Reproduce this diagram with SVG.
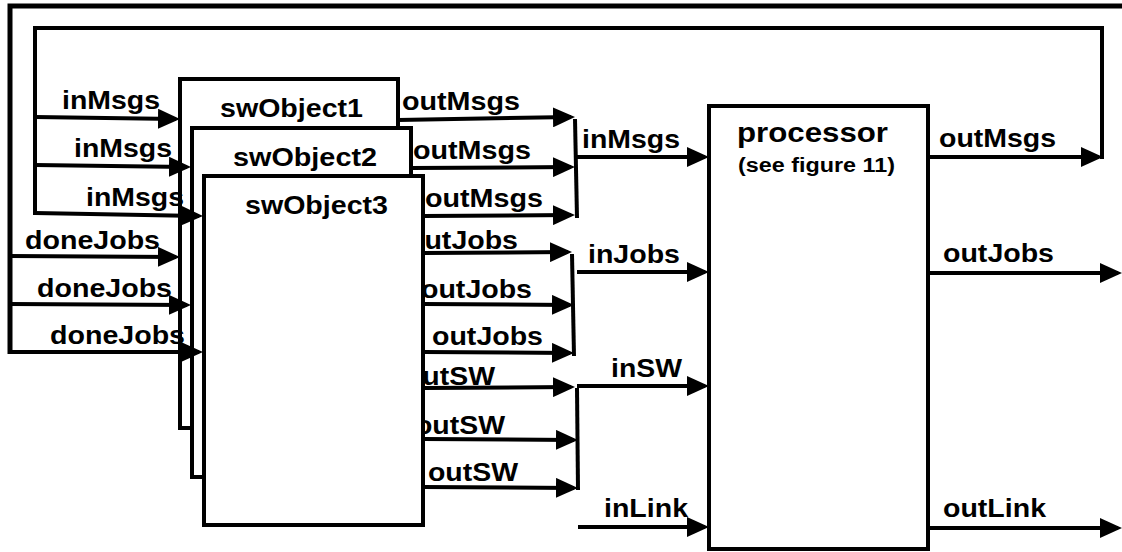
<svg xmlns="http://www.w3.org/2000/svg" width="1122" height="552" viewBox="0 0 1122 552">
<defs>
<marker id="ah" viewBox="0 0 22 20" refX="18" refY="10" markerWidth="22" markerHeight="20" markerUnits="userSpaceOnUse" orient="auto"><path d="M0,0 L22,10 L0,20 z" fill="#000"/></marker>
<clipPath id="clipR"><rect x="425" y="0" width="697" height="552"/></clipPath>
</defs>
<style>
.box{fill:#fff;stroke:#000;stroke-width:4}
.ln{fill:none;stroke:#000;stroke-width:4;stroke-linejoin:miter}
.lp{fill:none;stroke:#000;stroke-width:5;stroke-linejoin:miter}
.ar{fill:none;stroke:#000;stroke-width:4;marker-end:url(#ah)}
text{font-family:"Liberation Sans",Arial,sans-serif;font-weight:bold;fill:#000}
.lb{font-size:25px}
.nm{font-size:26px}
</style>
<rect width="1122" height="552" fill="#fff"/>
<g id="swObject1"><rect class="box" x="180" y="79" width="218" height="349"/><text class="nm" x="220" y="117" textLength="143" lengthAdjust="spacingAndGlyphs">swObject1</text></g>
<g id="swObject2"><rect class="box" x="192" y="128" width="219" height="349"/><text class="nm" x="233" y="166" textLength="144" lengthAdjust="spacingAndGlyphs">swObject2</text></g>
<g id="swObject3"><rect class="box" x="204" y="176" width="219" height="349"/><text class="nm" x="245" y="214" textLength="143" lengthAdjust="spacingAndGlyphs">swObject3</text></g>
<g id="processor"><rect class="box" x="709" y="106" width="219" height="443"/><text x="737" y="142" font-size="28" textLength="151" lengthAdjust="spacingAndGlyphs">processor</text><text x="738" y="172" font-size="20" textLength="157" lengthAdjust="spacingAndGlyphs">(see figure 11)</text></g>
<g id="connectors">
<path class="lp" d="M1122,6 H10 V354"/>
<path class="ln" d="M1102,159 V28 H35 V215"/>
<path class="ar" d="M35,117 L176,119"/>
<path class="ar" d="M35,165 L187,167"/>
<path class="ar" d="M35,213 L199,216"/>
<path class="ar" d="M10,256 L176,257"/>
<path class="ar" d="M10,304 L187,305"/>
<path class="ar" d="M10,352 L199,352"/>
<path class="ar" d="M398,120 L571,117"/>
<path class="ar" d="M411,168 L571,167"/>
<path class="ar" d="M423,216 L571,215"/>
<path class="ar" d="M423,253 L568,252"/>
<path class="ar" d="M423,304 L570,305"/>
<path class="ar" d="M423,352 L570,353"/>
<path class="ar" d="M423,388 L571,387"/>
<path class="ar" d="M423,439 L574,440"/>
<path class="ar" d="M423,487 L574,488"/>
<path class="ln" d="M575,119 L577,218"/>
<path class="ln" d="M572,254 L574,356"/>
<path class="ln" d="M577,388 L578,490"/>
<path class="ar" d="M577,157 L705,157"/>
<path class="ar" d="M577,272 L705,272"/>
<path class="ar" d="M577,386 L705,386"/>
<path class="ar" d="M578,527 L705,527"/>
<path class="ar" d="M928,157 L1099,157"/>
<path class="ar" d="M928,273 L1118,273"/>
<path class="ar" d="M928,528 L1118,528"/>
<text class="lb" x="62" y="109" textLength="98" lengthAdjust="spacingAndGlyphs">inMsgs</text>
<text class="lb" x="74" y="157" textLength="98" lengthAdjust="spacingAndGlyphs">inMsgs</text>
<text class="lb" x="86" y="206" textLength="98" lengthAdjust="spacingAndGlyphs">inMsgs</text>
<text class="lb" x="25" y="249" textLength="135" lengthAdjust="spacingAndGlyphs">doneJobs</text>
<text class="lb" x="37" y="297" textLength="135" lengthAdjust="spacingAndGlyphs">doneJobs</text>
<text class="lb" x="50" y="344" textLength="135" lengthAdjust="spacingAndGlyphs">doneJobs</text>
<text class="lb" x="402" y="110" textLength="118" lengthAdjust="spacingAndGlyphs">outMsgs</text>
<text class="lb" x="413" y="159" textLength="118" lengthAdjust="spacingAndGlyphs">outMsgs</text>
<text class="lb" x="425" y="207" textLength="118" lengthAdjust="spacingAndGlyphs">outMsgs</text>
<text class="lb" x="407" y="249" textLength="111" lengthAdjust="spacingAndGlyphs" clip-path="url(#clipR)">outJobs</text>
<text class="lb" x="421" y="298" textLength="111" lengthAdjust="spacingAndGlyphs" clip-path="url(#clipR)">outJobs</text>
<text class="lb" x="432" y="345" textLength="111" lengthAdjust="spacingAndGlyphs">outJobs</text>
<text class="lb" x="405" y="385" textLength="90" lengthAdjust="spacingAndGlyphs" clip-path="url(#clipR)">outSW</text>
<text class="lb" x="415" y="434" textLength="90" lengthAdjust="spacingAndGlyphs" clip-path="url(#clipR)">outSW</text>
<text class="lb" x="428" y="481" textLength="90" lengthAdjust="spacingAndGlyphs">outSW</text>
<text class="lb" x="582" y="148" textLength="98" lengthAdjust="spacingAndGlyphs">inMsgs</text>
<text class="lb" x="588" y="263" textLength="92" lengthAdjust="spacingAndGlyphs">inJobs</text>
<text class="lb" x="611" y="377" textLength="71" lengthAdjust="spacingAndGlyphs">inSW</text>
<text class="lb" x="604" y="517" textLength="84" lengthAdjust="spacingAndGlyphs">inLink</text>
<text class="lb" x="939" y="147" textLength="117" lengthAdjust="spacingAndGlyphs">outMsgs</text>
<text class="lb" x="943" y="262" textLength="111" lengthAdjust="spacingAndGlyphs">outJobs</text>
<text class="lb" x="943" y="517" textLength="103" lengthAdjust="spacingAndGlyphs">outLink</text>
</g>
</svg>
